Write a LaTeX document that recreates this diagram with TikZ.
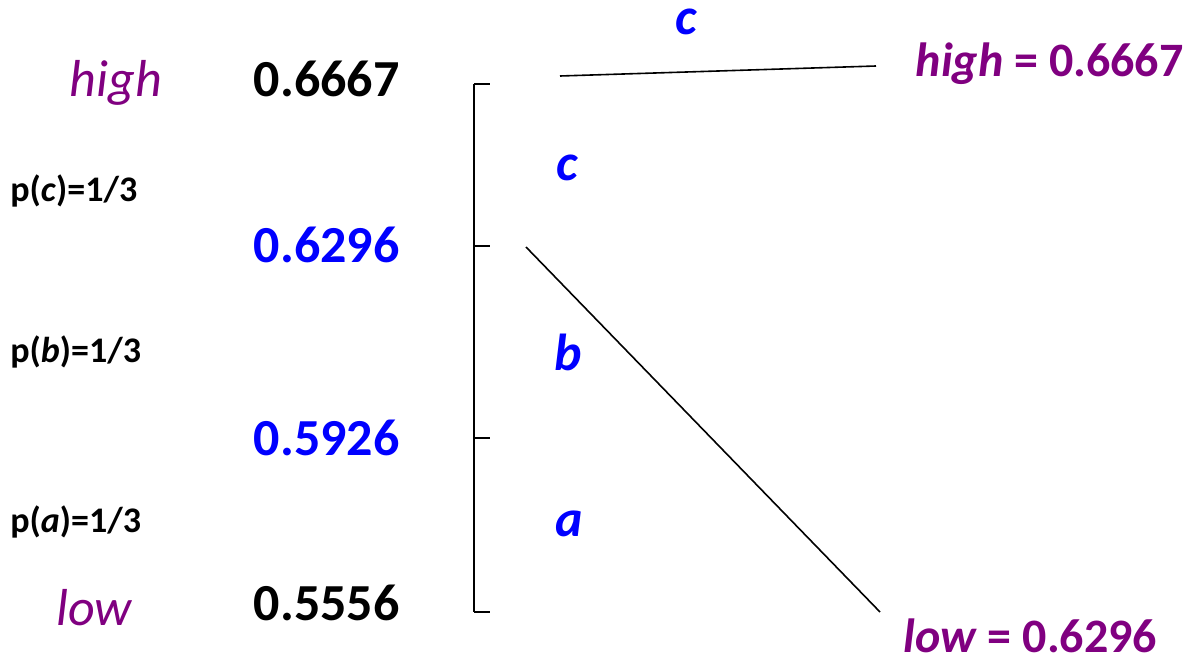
\documentclass[tikz,border=0pt]{standalone}
\usepackage{fontspec}
\setmainfont{Carlito}
\usepackage{xcolor}
\usepackage{tikz}
\usetikzlibrary{positioning}
\definecolor{HighLow}{RGB}{128, 0, 128}
\definecolor{CutBlue}{RGB}{0, 0, 255}

\begin{document}
\begin{tikzpicture}[
  x=0.5pt, y=-0.5pt,
  bound/.style={text=HighLow, font=\fontsize{26}{30}\selectfont\itshape, inner sep=0pt},
  val/.style={font=\fontsize{26}{30}\selectfont\bfseries, inner sep=0pt, anchor=base east},
  prob/.style={font=\fontsize{18}{22}\selectfont\bfseries, inner sep=0pt, anchor=base west},
  sym/.style={text=CutBlue, font=\fontsize{26}{30}\selectfont\bfseries\itshape, inner sep=0pt},
  res/.style={text=HighLow, font=\fontsize{24}{28}\selectfont\bfseries, inner sep=0pt},
  seg/.style={black, line width=0.8pt}
]
  \useasboundingbox (0,0) rectangle (1190,658);

  % left column
  \node[bound, anchor=base] (hi) at (116,97) {high};
  \node[bound, anchor=base] (lo) at (94,625) {low};
  \node[val] (vhigh) at (400,97) {0.6667};
  \node[val, text=CutBlue] (vc) at (400,263) {0.6296};
  \node[val, text=CutBlue] (vb) at (400,455) {0.5926};
  \node[val] (vlow) at (400,620) {0.5556};
  \node[prob] (pc) at (10,202) {p(\textit{c})=1/3};
  \node[prob] (pb) at (10,362) {p(\textit{b})=1/3};
  \node[prob] (pa) at (10,532) {p(\textit{a})=1/3};

  % interval bracket
  \coordinate (t0) at (474,84);
  \coordinate (t1) at (474,246);
  \coordinate (t2) at (474,438);
  \coordinate (t3) at (474,612);
  \draw[seg] (t0) -- (t3);
  \foreach \t in {t0,t1,t2,t3}
    \draw[seg] (\t) -- ++(16,0);

  \node[sym] (sc) at (567,168) {c};
  \node[sym] (sb) at (568,352) {b};
  \node[sym] (sa) at (569,524) {a};

  % zoomed interval
  \node[sym] (top) at (686,22) {c};
  \coordinate (h0) at (560,76);
  \coordinate (h1) at (876,66);
  \coordinate (l0) at (526,247);
  \coordinate (l1) at (880,612);
  \draw[seg] (h0) -- (h1);
  \draw[seg] (l0) -- (l1);
  \node[res, anchor=east] (newhi) at (1184,64) {\textit{high} = 0.6667};
  \node[res, anchor=west] (newlo) at (903,636) {\textit{low} = 0.6296};
\end{tikzpicture}
\end{document}
